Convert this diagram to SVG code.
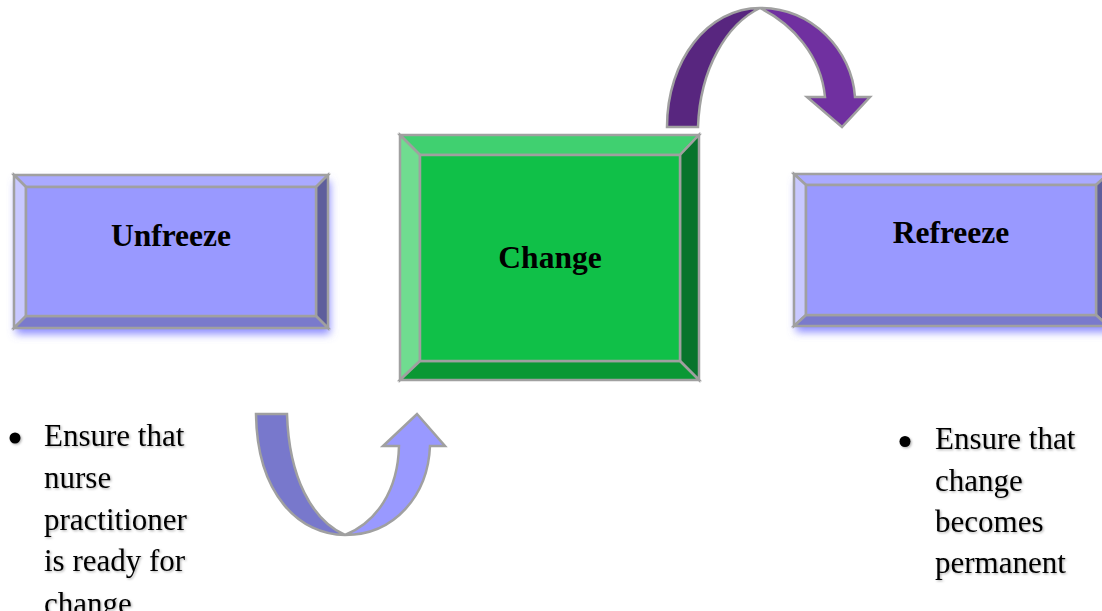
<svg xmlns="http://www.w3.org/2000/svg" width="1102" height="611" viewBox="0 0 1102 611">
  <style>
    .edge { stroke: #a0a0a0; stroke-width: 2.5; stroke-linejoin: miter; }
    .title { font-family: "Liberation Serif", "Times New Roman", serif; font-weight: bold; font-size: 31.5px; fill: #000; text-anchor: middle; }
    .note { font-family: "Liberation Serif", "Times New Roman", serif; font-size: 31px; fill: #000; }
    .bF { fill: #9999ff; } .bT { fill: #aaaaff; } .bL { fill: #c8c8ff; } .bR { fill: #5e5e9c; } .bB { fill: #7a7acc; }
    .gF { fill: #10c048; } .gT { fill: #40d070; } .gL { fill: #70dc90; } .gR { fill: #08742c; } .gB { fill: #0a9834; }
  </style>
  <defs>
    <filter id="glow" x="-10%" y="-10%" width="120%" height="140%">
      <feDropShadow dx="2" dy="6" stdDeviation="4" flood-color="#7777ff" flood-opacity="0.85"/>
    </filter>
    <filter id="txtShadow" x="-5%" y="-10%" width="110%" height="130%">
      <feDropShadow dx="1.2" dy="1.2" stdDeviation="1" flood-color="#000" flood-opacity="0.3"/>
    </filter>
  </defs>

  <rect width="1102" height="611" fill="#ffffff"/>

  <!-- Unfreeze -->
  <g id="unfreeze">
    <g filter="url(#glow)">
      <rect x="14" y="175" width="314" height="153" class="bF"/>
    </g>
    <polygon class="bT edge" points="14,175 328,175 316,187 26,187"/>
    <polygon class="bL edge" points="14,175 26,187 26,316 14,328"/>
    <polygon class="bR edge" points="328,175 328,328 316,316 316,187"/>
    <polygon class="bB edge" points="14,328 26,316 316,316 328,328"/>
    <rect x="26" y="187" width="290" height="129" class="bF edge"/>
    <text x="171" y="246" class="title">Unfreeze</text>
  </g>

  <!-- Change -->
  <g id="change">
    <polygon class="gT edge" points="400,135 699,135 680,155 420,155"/>
    <polygon class="gL edge" points="400,135 420,155 420,361 400,380"/>
    <polygon class="gR edge" points="699,135 699,380 680,361 680,155"/>
    <polygon class="gB edge" points="400,380 420,361 680,361 699,380"/>
    <rect x="420" y="155" width="260" height="206" class="gF edge"/>
    <text x="550" y="268" class="title">Change</text>
  </g>

  <!-- Refreeze -->
  <g id="refreeze">
    <g filter="url(#glow)">
      <rect x="794" y="174" width="314" height="152" class="bF"/>
    </g>
    <polygon class="bT edge" points="794,174 1108,174 1096,185 806,185"/>
    <polygon class="bL edge" points="794,174 806,185 806,315 794,326"/>
    <polygon class="bR edge" points="1108,174 1108,326 1096,315 1096,185"/>
    <polygon class="bB edge" points="794,326 806,315 1096,315 1108,326"/>
    <rect x="806" y="185" width="290" height="130" class="bF edge"/>
    <text x="951" y="243" class="title">Refreeze</text>
  </g>

  <!-- Curved arrows between the stages -->
  <g id="connectors">
    <!-- Unfreeze to Change: U-turn rising into the Change box -->
    <g id="arrow-up">
      <path class="edge" fill="#7878cc" d="M256,414 L287,414 C289,478 312,520 345,535 C300,535 257,495 256,414 Z"/>
      <path class="edge" fill="#9999ff" d="M345,535 C377,522 398,490 399,446 L383,446 L417,414 L445,446 L430,446 C428,495 395,535 345,535 Z"/>
    </g>
    <!-- Change to Refreeze: arch over the top -->
    <g id="arrow-over">
      <path class="edge" fill="#58267f" d="M667,127 C667,60 708,8 760,8 C727,24 700,68 698,127 Z"/>
      <path class="edge" fill="#7030a0" d="M760,8 C812,8 852,50 855,97 L870,97 L842,127 L807,97 L825,97 C821,55 792,24 760,8 Z"/>
    </g>
  </g>

  <!-- Notes under the stages -->
  <g id="note-unfreeze" filter="url(#txtShadow)">
    <circle cx="15" cy="438" r="5.5" fill="#000"/>
    <text class="note" x="44" y="446">Ensure that</text>
    <text class="note" x="44" y="487.8">nurse</text>
    <text class="note" x="44" y="529.6">practitioner</text>
    <text class="note" x="44" y="571.4">is ready for</text>
    <text class="note" x="44" y="613.5">change</text>
  </g>

  <g id="note-refreeze" filter="url(#txtShadow)">
    <circle cx="905" cy="441.5" r="5.5" fill="#000"/>
    <text class="note" x="935" y="449.3">Ensure that</text>
    <text class="note" x="935" y="490.6">change</text>
    <text class="note" x="935" y="531.9">becomes</text>
    <text class="note" x="935" y="573.2">permanent</text>
  </g>
</svg>
